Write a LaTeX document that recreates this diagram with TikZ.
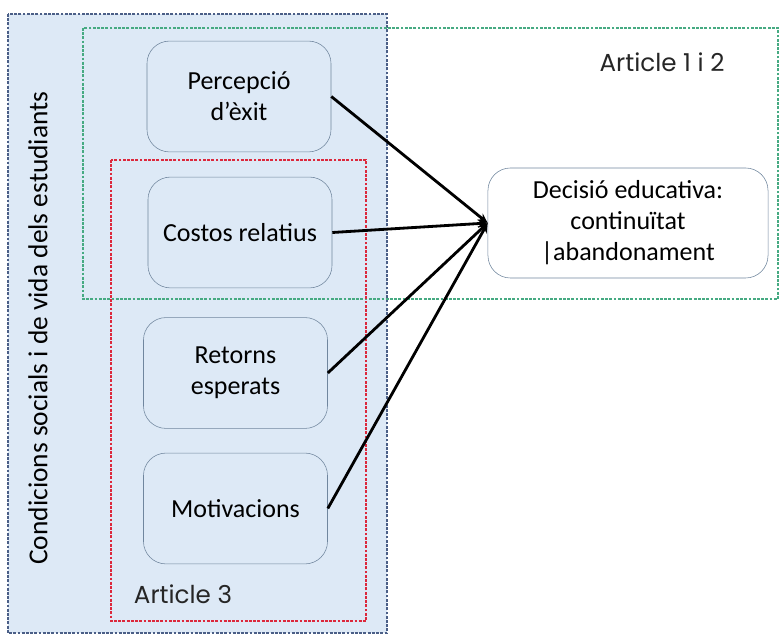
\documentclass[tikz,border=0pt]{standalone}
\usepackage{fontspec}
\setmainfont{Carlito}
\newfontfamily\artfont{Poppins}
\usetikzlibrary{arrows.meta, positioning}
\definecolor{cBlue}{RGB}{221, 233, 246}
\definecolor{cEdge}{RGB}{112, 134, 158}
\definecolor{cFrame}{RGB}{75, 95, 135}
\definecolor{cGreen}{RGB}{70, 170, 130}
\definecolor{cRed}{RGB}{220, 40, 60}

\tikzset{
  factor/.style={draw=cEdge, fill=cBlue, rounded corners=16pt, minimum width=4.6cm,
                 minimum height=2.77cm, align=center, font=\fontsize{18.5}{22}\selectfont},
  frame/.style={dash pattern=on 2pt off 1pt, line width=0.8pt},
  link/.style={line width=2pt, -{Stealth[length=7pt, width=6pt]}},
  artlabel/.style={font=\artfont\fontsize{17.5}{20}\selectfont, text=black!85}
}

\begin{document}
\begin{tikzpicture}[x=0.025cm, y=-0.025cm]
    \useasboundingbox (0,0) rectangle (779,635);
    % frames
    \draw[frame, draw=cFrame, fill=cBlue] (8,14) rectangle (387,633);
    \draw[frame, draw=cGreen] (83,28) rectangle (778,299);
    \draw[frame, draw=cRed] (111,160) rectangle (366,621);

    \node[rotate=90, font=\fontsize{19.5}{22}\selectfont] (cond) at (38,328) {Condicions socials i de vida dels estudiants};
    \node[artlabel] (art12) at (662,62) {Article 1 i 2};
    \node[artlabel] (art3) at (183,594) {Article 3};

    % factors
    \node[factor] (perc) at (239,96.5) {Percepció\\d’èxit};
    \node[factor] (cost) at (240,232.5) {Costos relatius};
    \node[factor] (ret) at (235.5,373) {Retorns\\esperats};
    \node[factor] (motiv) at (235.5,508.5) {Motivacions};

    \node[draw=cEdge, fill=white, rounded corners=16pt, minimum width=7cm, minimum height=2.75cm,
          align=center, font=\fontsize{18.5}{22}\selectfont] (dec) at (628,223) {Decisió educativa:\\continuïtat\\|abandonament};

    \foreach \src in {perc, cost, ret, motiv}
      \draw[link] (\src.east) -- (dec.west);
\end{tikzpicture}
\end{document}
